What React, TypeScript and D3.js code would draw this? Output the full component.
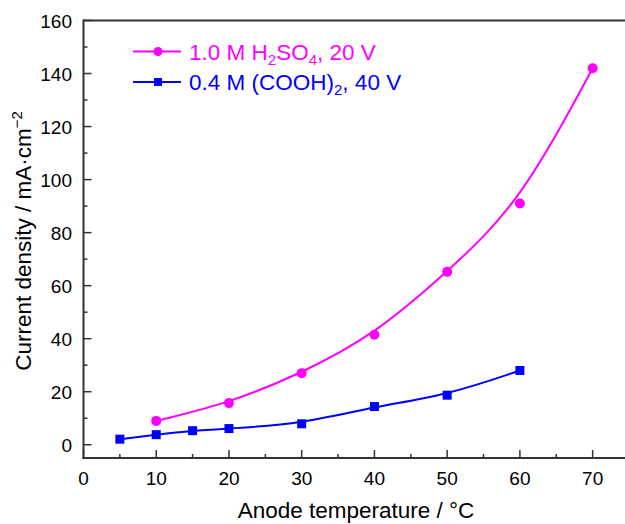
import React from "react";
import * as d3 from "d3";

const h2so4Temp = [10, 20, 30, 40, 50, 60, 70];
const h2so4Current = [9, 15.7, 27, 41.5, 65.2, 91, 142];
const oxalicTemp = [5, 10, 15, 20, 30, 40, 50, 60];
const oxalicCurrent = [2.1, 3.8, 5.3, 6.1, 7.9, 14.4, 18.7, 28];
const xTicks = [0, 10, 20, 30, 40, 50, 60, 70];
const yTicks = [0, 20, 40, 60, 80, 100, 120, 140, 160];

const W = 625, H = 524;
const FONT = "'Liberation Sans', Arial, sans-serif";
const PINK = "#ff00ff";
const BLUE = "#0000ff";
const AX = "#333333";

export default function App() {
  const x = d3.scaleLinear().domain([0, 75]).range([83.5, 629]);
  const y = d3.scaleLinear().domain([-5, 160]).range([458, 20.5]);

  const line = d3
    .line<[number, number]>()
    .x((d) => x(d[0]))
    .y((d) => y(d[1]))
    .curve(d3.curveBasis);

  const pinkData: [number, number][] = h2so4Temp.map((t, i) => [t, h2so4Current[i]]);
  const blueData: [number, number][] = oxalicTemp.map((t, i) => [t, oxalicCurrent[i]]);

  const xMinor = d3.range(5, 75, 10);
  const yMinor = d3.range(10, 160, 20);

  return (
    <svg width={W} height={H} style={{ position: "absolute", left: 0, top: 0, background: "#fff" }}>
      <rect width={W} height={H} fill="#fff" />
      {/* curves */}
      <path d={line(pinkData) || ""} fill="none" stroke={PINK} strokeWidth={2} />
      <path d={line(blueData) || ""} fill="none" stroke={BLUE} strokeWidth={2} />
      {pinkData.map((d, i) => (
        <circle key={"p" + i} cx={x(d[0])} cy={y(d[1])} r={5} fill={PINK} />
      ))}
      {blueData.map((d, i) => (
        <rect key={"b" + i} x={x(d[0]) - 4.5} y={y(d[1]) - 4.5} width={9} height={9} fill={BLUE} />
      ))}

      {/* axes frame */}
      <line x1={x(0)} x2={W + 10} y1={y(160)} y2={y(160)} stroke={AX} strokeWidth={2} />
      <line x1={x(0)} x2={x(0)} y1={y(160) - 1} y2={y(-5) + 1} stroke={AX} strokeWidth={2} />
      <line x1={x(0) - 1} x2={W + 10} y1={y(-5)} y2={y(-5)} stroke={AX} strokeWidth={2} />

      {/* x ticks */}
      {xTicks.map((t) => (
        <g key={"xt" + t}>
          <line x1={x(t)} x2={x(t)} y1={y(-5)} y2={y(-5) - 8} stroke={AX} strokeWidth={1.5} />
          <text x={x(t)} y={485} textAnchor="middle" fontFamily={FONT} fontSize={19} fill="#000">
            {t}
          </text>
        </g>
      ))}
      {xMinor.map((t) => (
        <line key={"xm" + t} x1={x(t)} x2={x(t)} y1={y(-5)} y2={y(-5) - 4} stroke={AX} strokeWidth={1.5} />
      ))}
      {/* y ticks */}
      {yTicks.map((t) => (
        <g key={"yt" + t}>
          <line x1={x(0)} x2={x(0) + 8} y1={y(t)} y2={y(t)} stroke={AX} strokeWidth={1.5} />
          <text x={72} y={y(t) + 7} textAnchor="end" fontFamily={FONT} fontSize={19} fill="#000">
            {t}
          </text>
        </g>
      ))}
      {yMinor.map((t) => (
        <line key={"ym" + t} x1={x(0)} x2={x(0) + 4} y1={y(t)} y2={y(t)} stroke={AX} strokeWidth={1.5} />
      ))}

      {/* axis titles */}
      <text x={356} y={518} textAnchor="middle" fontFamily={FONT} fontSize={22.5} fill="#000">
        Anode temperature / °C
      </text>
      <text
        transform={`translate(31, 241) rotate(-90)`}
        textAnchor="middle"
        fontFamily={FONT}
        fontSize={22.5}
        fill="#000"
      >
        Current density / mA·cm<tspan dy={-9} fontSize={15}>−2</tspan>
      </text>

      {/* legend */}
      <g>
        <line x1={133} x2={181} y1={51.5} y2={51.5} stroke={PINK} strokeWidth={2} />
        <circle cx={158} cy={51.5} r={4.5} fill={PINK} />
        <text x={189} y={59.5} fontFamily={FONT} fontSize={22.5} fill={PINK}>
          1.0 M H<tspan dy={5} fontSize={15}>2</tspan>
          <tspan dy={-5}>SO</tspan>
          <tspan dy={5} fontSize={15}>4</tspan>
          <tspan dy={-5}>, 20 V</tspan>
        </text>
        <line x1={133} x2={181} y1={82} y2={82} stroke={BLUE} strokeWidth={2} />
        <rect x={154} y={78} width={8} height={8} fill={BLUE} />
        <text x={189} y={90} fontFamily={FONT} fontSize={22.5} fill={BLUE}>
          0.4 M (COOH)<tspan dy={5} fontSize={15}>2</tspan>
          <tspan dy={-5}>, 40 V</tspan>
        </text>
      </g>
    </svg>
  );
}
